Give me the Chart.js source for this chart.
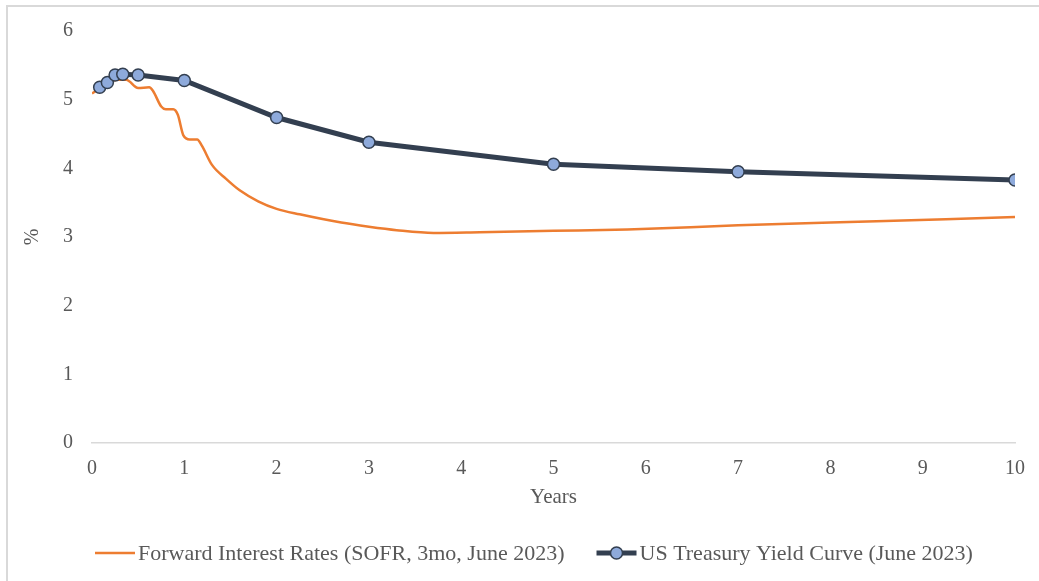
<!DOCTYPE html>
<html>
<head>
<meta charset="utf-8">
<script src="https://cdn.jsdelivr.net/npm/chart.js@4.4.0/dist/chart.umd.min.js"></script>
<style>
  html, body { margin: 0; padding: 0; background: #fff; }
  #wrap { position: relative; width: 1039px; height: 581px; overflow: hidden; background: #fff; }
  #frame { position: absolute; left: 6px; top: 5px; width: 1100px; height: 700px; border: 2px solid #d9d9d9; box-sizing: border-box; }
  canvas { position: absolute; left: 0; top: 0; }
</style>
</head>
<body>
<div id="wrap">
  <div id="frame"></div>
  <canvas id="c" width="1039" height="581"></canvas>
</div>
<script>
// Maturities (years) and yields (%) for the Treasury curve
const treasuryYears  = [0.0833, 0.1667, 0.25, 0.3333, 0.5, 1, 2, 3, 5, 7, 10];
const treasuryYields = [5.18, 5.25, 5.36, 5.37, 5.36, 5.28, 4.74, 4.38, 4.06, 3.95, 3.83];

// Forward 3-month SOFR path (years ahead, %)
const forwardYears = [0.00, 0.10, 0.18, 0.27, 0.37, 0.50, 0.62, 0.66, 0.75, 0.80, 0.88, 0.93, 0.99, 1.06, 1.14, 1.19, 1.30, 1.45, 1.60, 1.80, 2.00, 2.25, 2.70, 3.00, 3.30, 3.70, 4.20, 5.00, 5.80, 7.00, 8.50, 10.00];
const forwardRates = [5.09, 5.18, 5.25, 5.29, 5.29, 5.17, 5.18, 5.13, 4.90, 4.86, 4.86, 4.78, 4.48, 4.42, 4.42, 4.33, 4.05, 3.85, 3.68, 3.52, 3.41, 3.33, 3.21, 3.15, 3.10, 3.06, 3.07, 3.09, 3.11, 3.17, 3.23, 3.29];

const xTicks = [0, 1, 2, 3, 4, 5, 6, 7, 8, 9, 10];
const yTicks = [0, 1, 2, 3, 4, 5, 6];

const forwardLabel  = 'Forward Interest Rates (SOFR, 3mo, June 2023)';
const treasuryLabel = 'US Treasury Yield Curve (June 2023)';

const TEXT = '#595959';
const FAMILY = "'Liberation Serif', 'Times New Roman', serif";
const FONT = { family: FAMILY, size: 20 };
const KEY_FONT_SIZE = 22;

const toPoints = (xs, ys) => xs.map((x, i) => ({ x, y: ys[i] }));

// Legend drawn below the axis: line sample (with marker when the series has one) + label
const seriesKey = {
  id: 'seriesKey',
  afterDraw(chart) {
    const ctx = chart.ctx;
    const items = chart.data.datasets.slice().sort((a, b) => b.order - a.order);
    const y = 553, iconW = 40, gap = 3, between = 32;
    ctx.save();
    ctx.font = `${KEY_FONT_SIZE}px ${FAMILY}`;
    let x = 95;
    items.forEach(ds => {
      ctx.strokeStyle = ds.borderColor;
      ctx.lineWidth = ds.borderWidth;
      ctx.beginPath();
      ctx.moveTo(x, y);
      ctx.lineTo(x + iconW, y);
      ctx.stroke();
      if (ds.pointRadius > 0) {
        ctx.beginPath();
        ctx.arc(x + iconW / 2, y, ds.pointRadius, 0, Math.PI * 2);
        ctx.fillStyle = ds.pointBackgroundColor;
        ctx.fill();
        ctx.lineWidth = ds.pointBorderWidth;
        ctx.strokeStyle = ds.pointBorderColor;
        ctx.stroke();
      }
      ctx.fillStyle = TEXT;
      ctx.textBaseline = 'middle';
      ctx.textAlign = 'left';
      ctx.fillText(ds.label, x + iconW + gap, y + 1);
      x += iconW + gap + ctx.measureText(ds.label).width + between;
    });
    ctx.restore();
  }
};

new Chart(document.getElementById('c'), {
  type: 'scatter',
  data: {
    datasets: [
      {
        label: forwardLabel,
        data: toPoints(forwardYears, forwardRates),
        showLine: true,
        borderColor: '#ED7D31',
        borderWidth: 2.5,
        pointRadius: 0,
        cubicInterpolationMode: 'monotone',
        order: 1
      },
      {
        label: treasuryLabel,
        data: toPoints(treasuryYears, treasuryYields),
        showLine: true,
        borderColor: '#333F50',
        borderWidth: 5,
        tension: 0,
        pointRadius: 6,
        pointBackgroundColor: '#8EAADB',
        pointBorderColor: '#333F50',
        pointBorderWidth: 1.5,
        order: 0
      }
    ]
  },
  options: {
    responsive: false,
    animation: false,
    layout: { padding: { left: 0, right: 23, top: 28, bottom: 63 } },
    plugins: {
      legend: { display: false },
      tooltip: { enabled: false }
    },
    scales: {
      x: {
        type: 'linear',
        min: xTicks[0],
        max: xTicks[xTicks.length - 1],
        afterBuildTicks: s => { s.ticks = xTicks.map(v => ({ value: v })); },
        afterFit: s => { s.height = 75; },
        grid: { display: false, drawTicks: false },
        border: { display: true, color: '#d9d9d9', width: 1.5 },
        ticks: { color: TEXT, font: FONT, padding: 14, maxRotation: 0, autoSkip: false },
        title: { display: true, text: 'Years', color: TEXT, font: { family: FAMILY, size: 21 }, padding: { top: 0, bottom: 8 } }
      },
      y: {
        type: 'linear',
        min: yTicks[0],
        max: yTicks[yTicks.length - 1],
        afterBuildTicks: s => { s.ticks = yTicks.map(v => ({ value: v })); },
        afterFit: s => { s.width = 92; },
        grid: { display: false, drawTicks: false },
        border: { display: false },
        ticks: { color: TEXT, font: FONT, padding: 19 },
        title: { display: true, text: '%', color: TEXT, font: FONT, padding: { top: 21, bottom: 0 } }
      }
    }
  },
  plugins: [seriesKey]
});
</script>
</body>
</html>
